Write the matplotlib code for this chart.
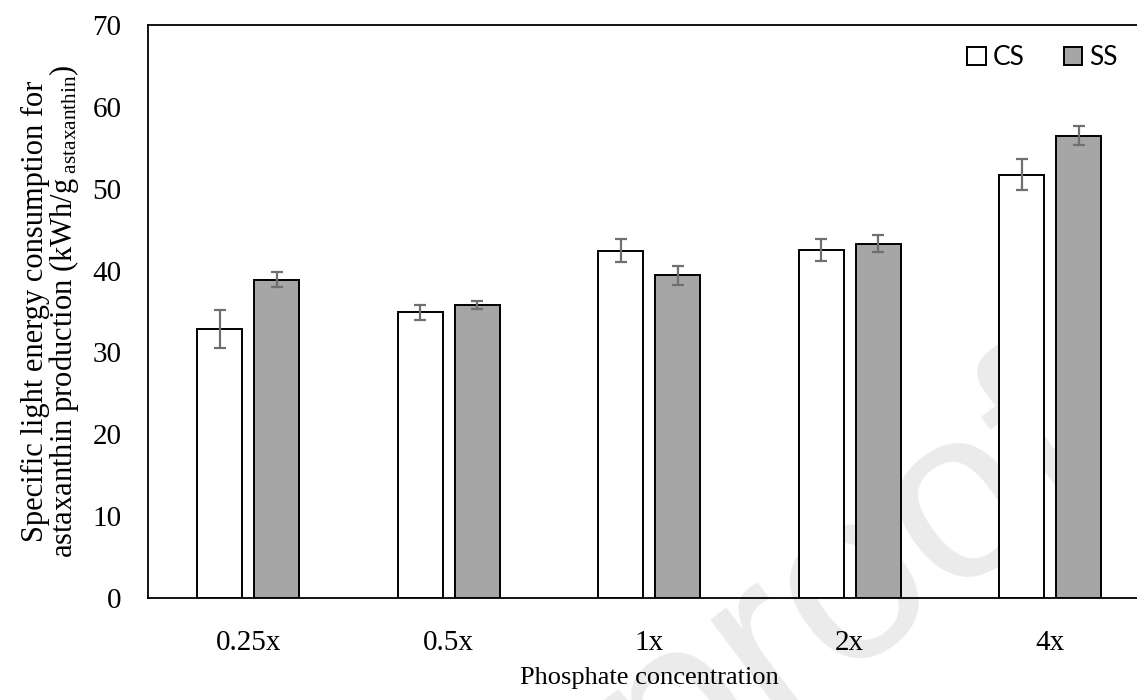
import numpy as np
import matplotlib.pyplot as plt
from matplotlib import rcParams

# ---------- data ----------
categories = ["0.25x", "0.5x", "1x", "2x", "4x"]
cs_values = [32.9, 34.9, 42.4, 42.5, 51.7]
cs_errors = [2.3, 0.95, 1.4, 1.3, 1.9]
ss_values = [38.9, 35.8, 39.4, 43.3, 56.5]
ss_errors = [0.9, 0.5, 1.2, 1.0, 1.2]

SERIF = ["Liberation Serif", "DejaVu Serif"]
SS_GRAY = "#A6A6A6"
ERR_GRAY = "#6F6F6F"

rcParams.update({
    "font.family": SERIF,
    "mathtext.fontset": "custom",
    "mathtext.rm": "Liberation Serif",
    "mathtext.it": "Liberation Serif:italic",
    "font.size": 21,
})

fig = plt.figure(figsize=(11.37, 7.0), dpi=100, facecolor="white")
# axes runs slightly past the right edge, like the cropped original
ax = fig.add_axes([148 / 1137, 102 / 700, (1150.5 - 148) / 1137, (598 - 25) / 700])
ax.set_facecolor("none")

# faint watermark behind everything
fig.text(1110 / 1137, 1 - 480 / 700, "Journal Pre-proof", family=["Liberation Sans"],
         fontsize=175, color="#EBEBEB", rotation=37, rotation_mode="anchor",
         ha="right", va="baseline", zorder=-10)

x = np.arange(len(categories))
w = 0.224
off = 0.143
err_kw = dict(ecolor=ERR_GRAY, elinewidth=1.6, capsize=4.3, capthick=1.6)

ax.bar(x - off, cs_values, w, yerr=cs_errors, color="white", edgecolor="black",
       linewidth=1.4, error_kw=err_kw, label="CS", zorder=3)
ax.bar(x + off, ss_values, w, yerr=ss_errors, color=SS_GRAY, edgecolor="black",
       linewidth=1.4, error_kw=err_kw, label="SS", zorder=3)

ax.set_xlim(-0.5, len(categories) - 0.5)
ax.set_ylim(0, 70)
ax.set_yticks(range(0, 71, 10))
ax.set_xticks(x)
ax.set_xticklabels(categories)
ax.tick_params(axis="both", length=0)
ax.tick_params(axis="y", pad=19)
ax.tick_params(axis="x", pad=23)

for side in ["left", "bottom", "top", "right"]:
    ax.spines[side].set_linewidth(1.3)
    ax.spines[side].set_color("black")

ax.set_ylabel("Specific light energy consumption for\n"
              "astaxanthin production (kWh/g$_{\\mathrm{\\ astaxanthin}}$)",
              fontsize=22, labelpad=8, linespacing=0.9)
ax.set_xlabel("Phosphate concentration", fontsize=19, labelpad=8)

leg = ax.legend(loc="upper right", bbox_to_anchor=(988 / (1150.5 - 148), 0.997),
                ncol=2, frameon=False, prop={"family": ["Lato", "DejaVu Sans"], "size": 19},
                handlelength=0.7, handleheight=0.7, handletextpad=0.25,
                columnspacing=1.5, borderaxespad=0.3)

fig.savefig("out.png", dpi=100, facecolor="white")
